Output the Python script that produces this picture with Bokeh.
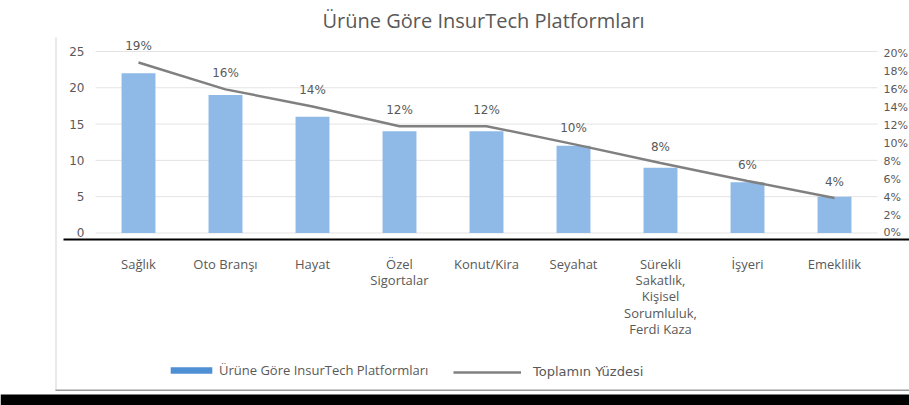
from bokeh.plotting import figure
from bokeh.models import (Range1d, LinearAxis, FixedTicker, NumeralTickFormatter,
                          ColumnDataSource, Legend, LegendItem, BoxAnnotation)
from bokeh.embed import file_html
from bokeh.resources import INLINE
from bokeh.core.properties import value

# ---- data ----
categories = ["Sağlık", "Oto Branşı", "Hayat", "Özel\nSigortalar", "Konut/Kira", "Seyahat",
              "Sürekli\nSakatlık,\nKişisel\nSorumluluk,\nFerdi Kaza", "İşyeri", "Emeklilik"]
platform_counts = [22, 19, 16, 14, 14, 12, 9, 7, 5]
share_of_total = [0.190, 0.160, 0.141, 0.119, 0.119, 0.099, 0.078, 0.058, 0.039]
share_labels = ["19%", "16%", "14%", "12%", "12%", "10%", "8%", "6%", "4%"]
left_ticks = [0, 5, 10, 15, 20, 25]
right_ticks = [0.0, 0.02, 0.04, 0.06, 0.08, 0.10, 0.12, 0.14, 0.16, 0.18, 0.20]

TITLE = "Ürüne Göre InsurTech Platformları"
BAR_NAME = "Ürüne Göre InsurTech Platformları"
LINE_NAME = "Toplamın Yüzdesi"

idx = list(range(len(categories)))
src = ColumnDataSource(dict(x=idx, count=platform_counts,
                            share=share_of_total, label=share_labels))

TXT = "#595959"
W, H = 909, 405
TOP = 36            # frame top (below title panel)
# pixel layout
CAT0, STEP = 138.0, 87.0          # first category centre, category spacing
Y0, PX_L = 232.0, 7.28            # pixel of value 0, px per left unit
PX_R = 9.0 / 0.01                 # px per 1.0 share (9 px per %)
PLOT_L, PLOT_R, AX_Y = 95.0, 877.0, 239.0

def xd(px):
    return (px - CAT0) / STEP

x_range = Range1d(xd(0), xd(W))
y_range = Range1d(-(H - Y0) / PX_L, (Y0 - TOP) / PX_L)
pct_range = Range1d(-(H - Y0) / PX_R, (Y0 - TOP) / PX_R)

p = figure(width=W, height=H, x_range=x_range, y_range=y_range,
           output_backend="svg", toolbar_location=None,
           min_border_left=0, min_border_right=0, min_border_bottom=0, min_border_top=TOP,
           title=TITLE)
p.extra_y_ranges = {"pct": pct_range}
p.outline_line_color = None
p.background_fill_color = "white"
p.border_fill_color = "white"
p.xgrid.visible = False
p.ygrid.visible = False

p.title.align = "left"
p.title.offset = 322
p.title.text_font = "Open Sans"
p.title.text_font_size = "20px"
p.title.text_font_style = "normal"
p.title.text_color = TXT
p.title.standoff = 8

# grid lines between plot edges
p.segment(x0=[xd(PLOT_L)] * len(left_ticks), x1=[xd(PLOT_R)] * len(left_ticks),
          y0=left_ticks, y1=left_ticks, line_color="#E3E3E3", line_width=1)

bars = p.vbar(x="x", top="count", width=0.39, source=src,
              fill_color="#8FBAE8", line_color=None)
# hidden copy of the bars, only used for the darker legend swatch
bar_swatch = p.vbar(x="x", top="count", width=0.39, source=src,
                    fill_color="#4F8FD3", line_color=None, visible=False)
line = p.line(x="x", y="share", source=src, y_range_name="pct",
              line_color="#808080", line_width=2.5)
p.text(x="x", y="share", text="label", source=src, y_range_name="pct",
       text_align="center", text_baseline="middle", y_offset=-16,
       text_font=value("DejaVu Sans"), text_font_size="12px", text_color=TXT)

# left axis
ya = p.yaxis[0]
ya.fixed_location = xd(PLOT_L)
ya.ticker = FixedTicker(ticks=left_ticks)
ya.axis_line_color = None
ya.major_tick_line_color = None
ya.minor_tick_line_color = None
ya.major_tick_out = 0
ya.major_label_standoff = 11
ya.major_label_text_font = "DejaVu Sans"
ya.major_label_text_font_size = "12px"
ya.major_label_text_color = TXT

# right axis
ra = LinearAxis(y_range_name="pct", ticker=FixedTicker(ticks=right_ticks),
                formatter=NumeralTickFormatter(format="0%"), fixed_location=xd(PLOT_R))
ra.axis_line_color = None
ra.major_tick_line_color = None
ra.minor_tick_line_color = None
ra.major_tick_out = 0
ra.major_label_standoff = 6
ra.major_label_text_font = "DejaVu Sans"
ra.major_label_text_font_size = "11px"
ra.major_label_text_color = TXT
p.add_layout(ra, "right")

# x axis
xa = p.xaxis[0]
xa.fixed_location = (Y0 - AX_Y) / PX_L
xa.bounds = (xd(63), xd(W))
xa.ticker = FixedTicker(ticks=idx)
xa.major_label_overrides = {i: c for i, c in zip(idx, categories)}
xa.axis_line_color = "black"
xa.axis_line_width = 2
xa.major_tick_line_color = None
xa.minor_tick_line_color = None
xa.major_tick_out = 0
xa.major_label_standoff = 15
xa.major_label_text_font = "Open Sans"
xa.major_label_text_font_size = "13px"
xa.major_label_text_color = TXT
xa.major_label_text_line_height = 0.9

# chart-box decorations (screen units: x from frame left, y up from frame bottom)
def box(l, r, t, b, color):
    p.add_layout(BoxAnnotation(left=l, right=r, top=H - t, bottom=H - b,
                               left_units="screen", right_units="screen",
                               top_units="screen", bottom_units="screen",
                               fill_color=color, fill_alpha=1.0, line_color=None,
                               level="overlay"))

box(55, 56, TOP, 390, "#D6D6D6")     # left border of chart box
box(55, W, 389, 390.5, "#9A9A9A")    # bottom border
box(0, W, 394, H, "black")           # black band

# legends
leg1 = Legend(items=[LegendItem(label=BAR_NAME, renderers=[bar_swatch])],
              location=(165, 26), orientation="horizontal",
              glyph_width=52, glyph_height=8, label_standoff=2, padding=0,
              border_line_color=None, background_fill_alpha=0,
              inactive_fill_alpha=0, click_policy="none",
              label_text_font="Open Sans", label_text_font_size="13px",
              label_text_color=TXT)
leg2 = Legend(items=[LegendItem(label=LINE_NAME, renderers=[line])],
              location=(453, 26), orientation="horizontal",
              glyph_width=68, glyph_height=8, label_standoff=12, padding=0,
              border_line_color=None, background_fill_alpha=0,
              label_text_font="DejaVu Sans", label_text_font_size="13px",
              label_text_color=TXT)
p.add_layout(leg1, "center")
p.add_layout(leg2, "center")

open("out.html", "w").write(file_html(p, INLINE))
